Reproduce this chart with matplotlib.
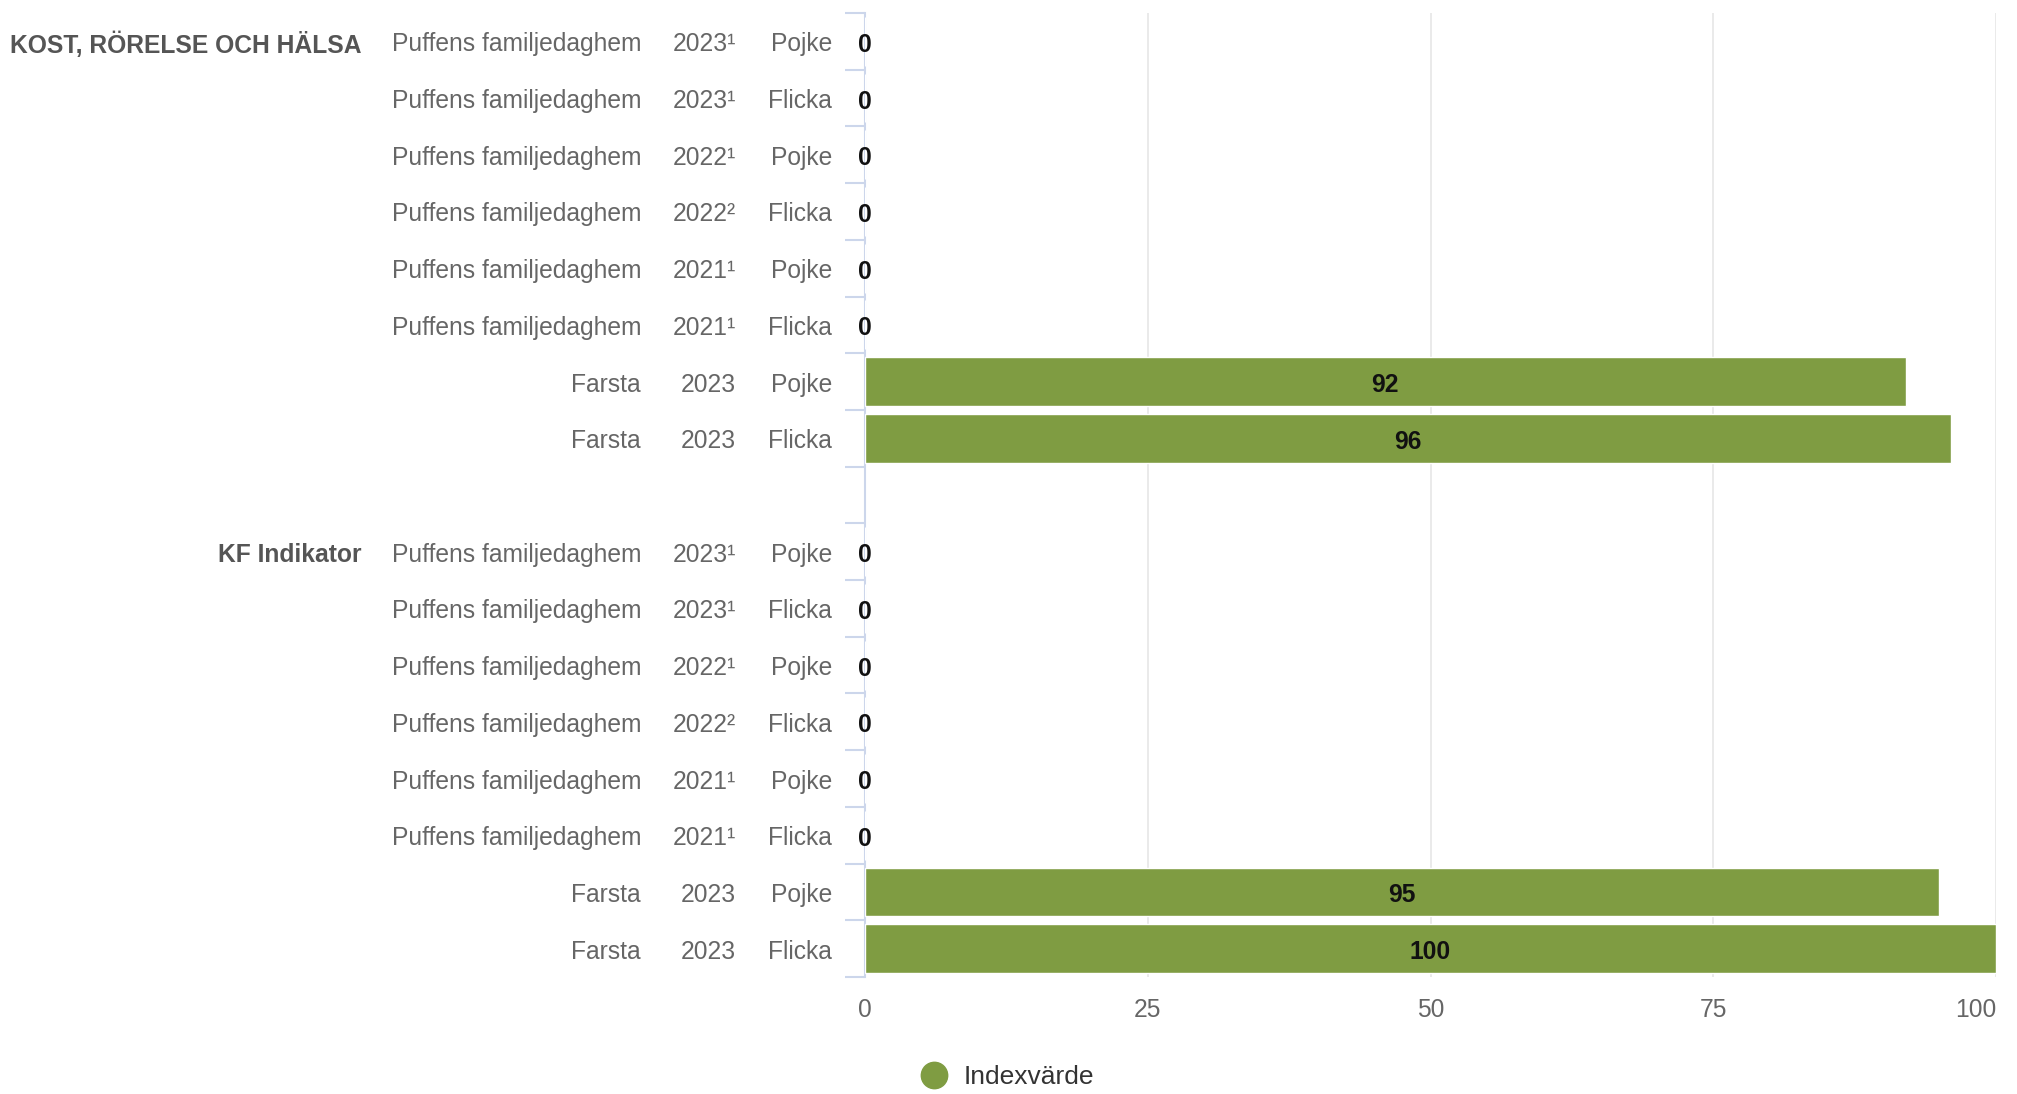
import matplotlib
matplotlib.use("Agg")
import matplotlib.pyplot as plt
from matplotlib.lines import Line2D
from matplotlib.transforms import blended_transform_factory, offset_copy

plt.rcParams["font.family"] = ["Liberation Sans", "DejaVu Sans"]

# Data
groups = ["KOST, RÖRELSE OCH HÄLSA", "KF Indikator"]
units = ["Puffens familjedaghem"] * 6 + ["Farsta"] * 2
years = ["2023¹", "2023¹", "2022¹", "2022²", "2021¹", "2021¹", "2023", "2023"]
genders = ["Pojke", "Flicka", "Pojke", "Flicka", "Pojke", "Flicka", "Pojke", "Flicka"]
values_kost = [0, 0, 0, 0, 0, 0, 92, 96]
values_kf = [0, 0, 0, 0, 0, 0, 95, 100]
series_name = "Indexvärde"
x_ticks = [0, 25, 50, 75, 100]

GREEN = "#7f9c42"
LABEL = "#666666"
W, H = 2017, 1094
FS = 17.7

fig = plt.figure(figsize=(W / 100, H / 100), dpi=100)
ax = fig.add_axes([865 / W, 1 - 977 / H, (1996 - 865) / W, (977 - 13) / H])

n = len(units)
rows_kost = list(range(n))
rows_kf = [n + 1 + i for i in range(n)]
total_rows = 2 * n + 1

for rows, vals in ((rows_kost, values_kost), (rows_kf, values_kf)):
    bars = ax.barh(rows, vals, height=0.86, color=GREEN, edgecolor="white",
                   linewidth=1, zorder=3)
    anns = ax.bar_label(bars, labels=[str(v) for v in vals], label_type="center",
                        fontsize=FS, fontweight="bold", color="#111111", zorder=4)
    for a in anns:
        a.xyann = (0, -2.5)

ax.set_xlim(0, 100)
ax.set_ylim(total_rows - 0.5, -0.5)

# x axis
ax.set_xticks(x_ticks)
ax.set_xticklabels([str(t) for t in x_ticks])
ax.get_xticklabels()[-1].set_horizontalalignment("right")
ax.tick_params(axis="x", length=0, pad=15, labelsize=FS, labelcolor=LABEL)
ax.grid(axis="x", color="#e6e6e6", linewidth=1.2, zorder=0)

# y axis: tick marks between categories
ax.set_yticks([r - 0.5 for r in range(total_rows + 1)])
ax.set_yticklabels([])
ax.tick_params(axis="y", length=14.5, width=1.5, color="#ccd6eb", direction="out")
for side in ("top", "right", "bottom"):
    ax.spines[side].set_visible(False)
ax.spines["left"].set_color("#ccd6eb")
ax.spines["left"].set_linewidth(1.5)

# category labels
tr = offset_copy(blended_transform_factory(fig.transFigure, ax.transData),
                 fig=fig, y=-3, units="dots")
for g, rows in zip(groups, (rows_kost, rows_kf)):
    ax.text(361 / W, rows[0], g, transform=tr, ha="right", va="center",
            fontsize=FS, fontweight="bold", color="#555555")
    for r, u, y, s in zip(rows, units, years, genders):
        ax.text(641 / W, r, u, transform=tr, ha="right", va="center",
                fontsize=FS, color=LABEL)
        ax.text(736 / W, r, y, transform=tr, ha="right", va="center",
                fontsize=FS, color=LABEL)
        ax.text(832 / W, r, s, transform=tr, ha="right", va="center",
                fontsize=FS, color=LABEL)

# legend
handle = Line2D([], [], marker="o", linestyle="", color=GREEN, markersize=19)
fig.legend([handle], [series_name], loc="center left",
           bbox_to_anchor=(921 / W, 1 - 1077 / H), frameon=False,
           borderpad=0, borderaxespad=0, handlelength=1.0, handletextpad=0.6,
           fontsize=19, labelcolor="#333333")

fig.savefig("out.png", dpi=100, facecolor="white")
